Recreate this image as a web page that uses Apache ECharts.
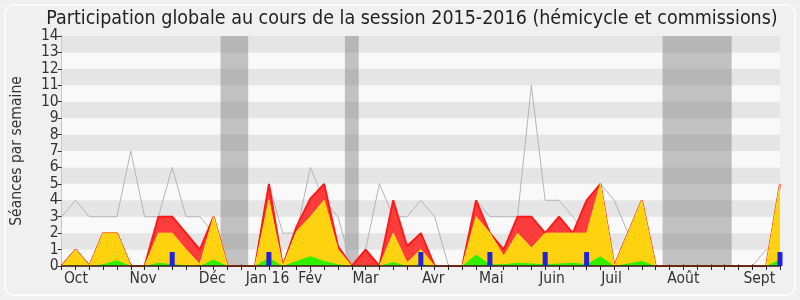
<!DOCTYPE html>
<html>
<head>
<meta charset="utf-8">
<script src="https://cdn.jsdelivr.net/npm/echarts@6/dist/echarts.min.js"></script>
<style>
html,body{margin:0;padding:0;background:#f0f0f0;}
#c{width:800px;height:300px;}
</style>
</head>
<body>
<div id="c"></div>
<script>
// Weekly values, week index 0..52 (Oct 2015 -> Sept 2016)
var hemicycleMax = [3,4,3,3,3,7,3,3,6,3,3,2,0,0,0,5,2,2,6,4,3,0,1,5,3,3,4,3,0,0,4,3,3,3,11,4,4,3,2,5,4,2,2,0,0,0,0,0,0,0,0,1,1];
var presenceTotal = [0,1,0,2,2,0,0,3,3,2,1,3,0,0,0,5,0,2.4,4.1,5,1.2,0,1,0,4,1.2,2,0,0,0,4,2,1,3,3,2,3,2,4,5,0,2,4,0,0,0,0,0,0,0,0,0,5];
var presenceHemi = [0,1,0,2,2,0,0,2,2,1,0.1,3,0,0,0,4,0,2.1,3,4,1,0,0,0,2,0.2,1,0,0,0,3,2,0.6,2,1.1,2,2,2,2,5,0,2,4,0,0,0,0,0,0,0,0,0,5];
var interventions = [0,0.05,0,0.1,0.35,0,0,0.2,0.1,0.05,0,0.4,0,0,0,0.5,0,0.3,0.6,0.3,0.1,0,0,0,0.25,0,0.1,0,0,0,0.7,0.1,0.1,0.2,0.15,0.1,0.15,0.2,0.1,0.6,0,0.15,0.3,0,0,0,0,0,0,0,0,0,0.4];
var questions = [0,0,0,0,0,0,0,0,0.85,0,0,0,0,0,0,0.85,0,0,0,0,0,0,0,0,0,0,0.85,0,0,0,0,0.85,0,0,0,0.85,0,0,0.85,0,0,0,0,0,0,0,0,0,0,0,0,0,0.85];
var vacations = [[11.5,13.5],[20.5,21.5],[43.5,48.5]];
var monthPos = [1.03,5.9,10.9,14.9,18.0,22.0,26.9,31.1,35.5,39.8,45.0,50.5];
var monthNames = ['Oct','Nov','Déc','Jan 16','Fév','Mar','Avr','Mai','Juin','Juil','Août','Sept'];
var yTicks = [0,1,2,3,4,5,6,7,8,9,10,11,12,13,14];

function pairs(arr){ return arr.map(function(v,i){ return [i,v]; }); }
var weekIdx = hemicycleMax.map(function(v,i){return i;});

var chart = echarts.init(document.getElementById('c'), null, {renderer:'canvas'});
var FONT = 'DejaVu Sans Condensed, DejaVu Sans, sans-serif';
var option = {
  backgroundColor: '#f0f0f0',
  animation: false,
  textStyle: {fontFamily: FONT},
  title: {
    text: 'Participation globale au cours de la session 2015-2016 (hémicycle et commissions)',
    left: 407, top: 4, textAlign: 'center',
    textStyle: {fontFamily: FONT, fontSize: 19.5, fontWeight: 'normal', color: '#222'}
  },
  graphic: [{
    type: 'rect', z: -1, silent: true,
    shape: {x: 5, y: 5, width: 790, height: 290, r: 8},
    style: {fill: 'none', stroke: '#fbfbfb', lineWidth: 2}
  }],
  grid: {left: 61.7, right: 20, top: 36, bottom: 34},
  xAxis: [{
    type: 'value', min: 0, max: 52, interval: 1, position: 'bottom', z: 5,
    axisLine: {show: true, onZero: false, lineStyle: {color: '#3a1510', width: 1.5}},
    axisTick: {show: true, length: 4, customValues: weekIdx, lineStyle: {color: '#222'}},
    axisLabel: {
      customValues: monthPos, fontSize: 15.5, color: '#333', margin: 5, fontFamily: FONT,
      formatter: function(v){ var k = monthPos.indexOf(v); return k >= 0 ? monthNames[k] : ''; }
    },
    splitLine: {show: false}
  },{
    type: 'value', min: 0, max: 52, interval: 1, position: 'top',
    axisLine: {show: false},
    axisTick: {show: true, length: 1.5, lineStyle: {color: '#000'}},
    axisLabel: {show: false},
    splitLine: {show: false}
  }],
  yAxis: [{
    type: 'value', min: 0, max: 14, interval: 1,
    name: 'Séances par semaine', nameLocation: 'middle', nameGap: 37, nameRotate: 90,
    nameTextStyle: {fontSize: 15.5, color: '#333', fontFamily: FONT},
    axisLine: {show: true, lineStyle: {color: '#333'}},
    axisTick: {show: true, length: 4, lineStyle: {color: '#333'}},
    axisLabel: {fontSize: 15.5, color: '#333', margin: 3, fontFamily: FONT,
      formatter: function(v){ return yTicks.indexOf(v) >= 0 ? String(v) : ''; }},
    splitLine: {show: false},
    splitArea: {show: true, areaStyle: {color: ['#f9f9f9', '#e5e5e5']}}
  },{
    type: 'value', min: 0, max: 14, position: 'right',
    axisLine: {show: true, lineStyle: {color: '#c8c8c8'}},
    axisTick: {show: false}, axisLabel: {show: false}, splitLine: {show: false}
  }],
  series: [
    {
      type: 'line', name: 'hemicycle', data: pairs(hemicycleMax), symbol: 'none', z: 2,
      lineStyle: {color: '#b4b4b4', width: 1},
      markArea: {
        silent: true,
        itemStyle: {color: 'rgba(125,125,125,0.45)'},
        data: vacations.map(function(r){ return [{xAxis: r[0]}, {xAxis: r[1]}]; })
      }
    },
    {
      type: 'line', name: 'total', data: pairs(presenceTotal), symbol: 'none', z: 3,
      lineStyle: {color: '#ff1a1a', width: 2},
      areaStyle: {color: '#ff3c3c', opacity: 1}
    },
    {
      type: 'line', name: 'hemi', data: pairs(presenceHemi), symbol: 'none', z: 4,
      lineStyle: {color: '#ffe020', width: 1},
      areaStyle: {color: '#ffd20f', opacity: 1}
    },
    {
      type: 'line', name: 'interv', data: pairs(interventions), symbol: 'none', z: 5,
      lineStyle: {width: 0},
      areaStyle: {color: '#2ef000', opacity: 1}
    },
    {
      type: 'bar', name: 'questions', data: pairs(questions), z: 6,
      barWidth: 5, itemStyle: {color: '#2020dd'}
    }
  ]
};
chart.setOption(option);
</script>
</body>
</html>
